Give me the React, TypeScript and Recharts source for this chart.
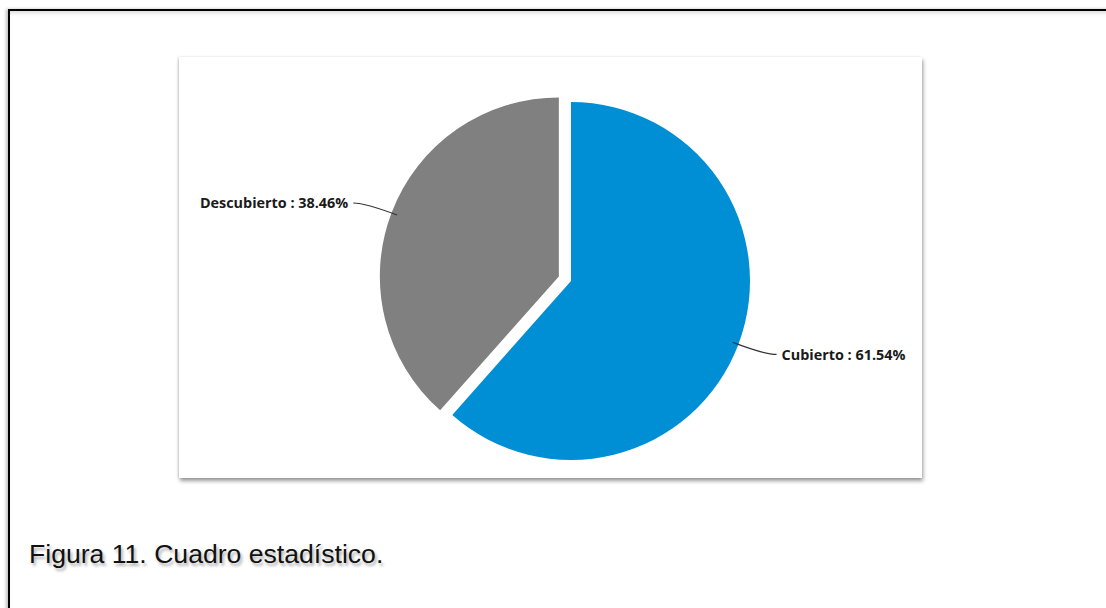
import React from "react";
import { PieChart, Pie, Cell } from "recharts";

const categories = ["Cubierto", "Descubierto"];
const percentages = [61.54, 38.46];
const colors = ["#008FD5", "#808080"];
const explodedIndex = 1;
const captionText = "Figura 11. Cuadro estadístico.";

const data = categories.map((name, i) => ({ name, value: percentages[i] }));

const RADIAN = Math.PI / 180;
const CX = 387;
const CY = 219;
const R = 179;
const EXPLODE = 13;

// mid angle of the exploded slice (Recharts convention: start 90, clockwise)
const total = percentages.reduce((a, b) => a + b, 0);
const before = percentages.slice(0, explodedIndex).reduce((a, b) => a + b, 0);
const startA = 90 - (before / total) * 360;
const endA = startA - (percentages[explodedIndex] / total) * 360;
const midA = (startA + endA) / 2;
const DX = Math.cos(-midA * RADIAN) * EXPLODE;
const DY = Math.sin(-midA * RADIAN) * EXPLODE;

const makeLabel = (visibleIndex: number) => (props: any) => {
  const { cx, cy, midAngle, outerRadius, index, name, value } = props;
  if (index !== visibleIndex) return null;
  const cos = Math.cos(-midAngle * RADIAN);
  const sin = Math.sin(-midAngle * RADIAN);
  const r0 = outerRadius - 6;
  const r1 = outerRadius + 28;
  const x0 = cx + r0 * cos;
  const y0 = cy + r0 * sin;
  const xc = cx + r1 * cos;
  const yc = cy + r1 * sin;
  const dir = cos >= 0 ? 1 : -1;
  const x2 = xc + dir * 12;
  const y2 = yc;
  return (
    <g>
      <path
        d={`M${x0},${y0} Q${xc},${yc} ${x2},${y2}`}
        stroke="#333"
        strokeWidth={1.2}
        fill="none"
      />
      <text
        x={x2 + dir * 5}
        y={y2}
        textAnchor={dir > 0 ? "start" : "end"}
        dominantBaseline="central"
        fontFamily="'Open Sans', 'DejaVu Sans', sans-serif"
        fontWeight={700}
        fontSize={14.4}
        fill="#1a1a1a"
      >
        {`${name} : ${Number(value).toFixed(2)}%`}
      </text>
    </g>
  );
};

export default function App() {
  return (
    <div
      style={{
        position: "absolute",
        left: 0,
        top: 0,
        width: 1106,
        height: 608,
        overflow: "hidden",
        background: "#fff",
      }}
    >
      <div
        style={{
          position: "absolute",
          left: 8,
          top: 9,
          width: 1200,
          height: 700,
          borderTop: "2px solid #000",
          borderLeft: "2px solid #000",
          boxShadow: "-2px 0 3px rgba(0,0,0,0.25), inset 0 4px 4px -2px rgba(0,0,0,0.15)",
        }}
      />
      <div
        style={{
          position: "absolute",
          left: 179,
          top: 57,
          width: 743,
          height: 421,
          background: "#fff",
          boxShadow: "1px 3px 4px rgba(0,0,0,0.4), -1px 0 2px rgba(0,0,0,0.12)",
        }}
      >
        <PieChart width={743} height={421}>
          <Pie
            data={data}
            dataKey="value"
            nameKey="name"
            cx={CX}
            cy={CY}
            outerRadius={R}
            startAngle={90}
            endAngle={-270}
            stroke="none"
            labelLine={false}
            label={makeLabel(0)}
            isAnimationActive={false}
          >
            {data.map((d, i) => (
              <Cell key={d.name} fill={i === explodedIndex ? "none" : colors[i]} />
            ))}
          </Pie>
          <Pie
            data={data}
            dataKey="value"
            nameKey="name"
            cx={CX + DX}
            cy={CY + DY}
            outerRadius={R}
            startAngle={90}
            endAngle={-270}
            stroke="none"
            labelLine={false}
            label={makeLabel(explodedIndex)}
            isAnimationActive={false}
          >
            {data.map((d, i) => (
              <Cell key={d.name} fill={i === explodedIndex ? colors[i] : "none"} />
            ))}
          </Pie>
        </PieChart>
      </div>
      <div
        style={{
          position: "absolute",
          left: 29,
          top: 541,
          fontFamily: "'Liberation Sans', Arial, sans-serif",
          fontSize: 26.6,
          lineHeight: 1,
          color: "#111",
          whiteSpace: "nowrap",
          textShadow: "2px 3px 3px rgba(0,0,0,0.3)",
        }}
      >
        {captionText}
      </div>
    </div>
  );
}
